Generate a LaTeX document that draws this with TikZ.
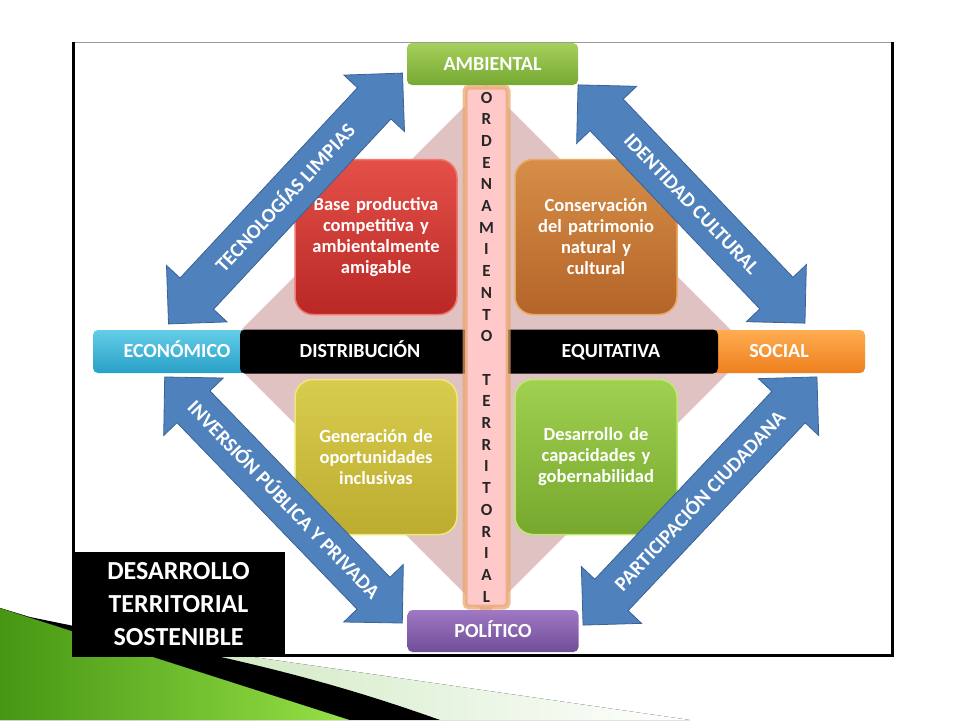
\documentclass[tikz,border=0pt]{standalone}
\usepackage{fontspec}
\setmainfont{Carlito}
\usepackage{xcolor}
\usepackage{tikz}
\usetikzlibrary{positioning, shapes.arrows, shapes.geometric, shapes.misc, backgrounds}
\definecolor{flecha}{RGB}{79,129,189}
\definecolor{flechaborde}{RGB}{58,98,150}
\definecolor{rombo}{RGB}{224,194,194}
\definecolor{rosa}{RGB}{255,201,201}
\definecolor{brillo}{RGB}{232,165,105}
\definecolor{rojoA}{RGB}{228,80,72}
\definecolor{rojoB}{RGB}{185,40,38}
\definecolor{rojoC}{RGB}{240,120,110}
\definecolor{cobreA}{RGB}{214,142,72}
\definecolor{cobreB}{RGB}{180,100,40}
\definecolor{cobreC}{RGB}{235,170,100}
\definecolor{oliva}{RGB}{216,204,78}
\definecolor{olivaB}{RGB}{188,172,48}
\definecolor{olivaC}{RGB}{238,232,120}
\definecolor{pastoA}{RGB}{160,208,80}
\definecolor{pastoB}{RGB}{118,168,46}
\definecolor{pastoC}{RGB}{190,232,110}
\definecolor{cianA}{RGB}{100,205,232}
\definecolor{cianB}{RGB}{40,160,198}
\definecolor{naranjaA}{RGB}{255,172,80}
\definecolor{naranjaB}{RGB}{238,128,30}
\definecolor{verdeA}{RGB}{165,208,92}
\definecolor{verdeB}{RGB}{118,168,50}
\definecolor{moradoA}{RGB}{160,120,196}
\definecolor{moradoB}{RGB}{112,78,152}
\definecolor{cintaA}{RGB}{70,150,20}
\definecolor{cintaB}{RGB}{150,225,70}
\definecolor{cintaC}{RGB}{205,232,190}
\tikzset{
eje/.style args = {#1, #2}{ rectangle, rounded corners = 5pt, top color = #1, bottom color = #2, minimum width = 171pt, minimum height = 42pt, inner sep = 0pt, text height = 12.9pt, text depth = 0pt, text = white, font = \fontsize{20}{24}\selectfont\bfseries },
rotulo/.style = { text height = 12.9pt, text depth = 0pt, text = white, font = \fontsize{20}{24}\selectfont\bfseries },
campo/.style args = {#1, #2, #3}{ rectangle, rounded corners = 18pt, top color = #1, bottom color = #2, draw = #3, line width = 1.5pt, minimum width = 162pt, minimum height = 155pt, text width = 152pt, align = center, text = white, font = \fontsize{18.5}{21}\selectfont\bfseries },
enlace/.style = { double arrow, draw = flechaborde, fill = flecha, line width = 0.8pt, double arrow head extend = 18.5pt, double arrow tip angle = 90, inner ysep = 22.5pt, inner xsep = 0pt },
leyenda/.style = { text height = 13.1pt, text depth = 0pt, inner sep = 0pt, text = white, font = \fontsize{20.3}{24}\selectfont\bfseries },
}

\begin{document}
\begin{tikzpicture}[x = 1pt, y = -1pt]
    \useasboundingbox (0, 0) rectangle (960, 720);
    % cinta
    \fill[left color = cintaA, right color = cintaB] (0, 608) -- (350, 720) -- (0, 720) -- cycle;
    \fill[left color = cintaC, right color = white] (170, 645) -- (690, 720) -- (440, 720) -- cycle;
    \fill[black] (30, 617) .. controls (200, 652) and (300, 670) .. (440, 720) -- (350, 720) -- (0, 608) -- cycle;
    % marco
    \draw[fill = white, draw = black!40] (73, 42) rectangle (892, 655);
    \draw[line width = 3pt] (73, 42) -- (73, 655) -- (892, 655) -- (892, 42);
    \node (fondo) [diamond, fill = rombo, minimum width = 530pt, minimum height = 530pt, inner sep = 0pt] at (486, 350) {};
    \node (base) [campo = {rojoA, rojoB, rojoC}] at (376, 237) {Base productiva\\competitiva y\\ambientalmente\\amigable};
    \node (conservacion) [campo = {cobreA, cobreB, cobreC}] at (596, 237) {Conservación\\del patrimonio\\natural y\\cultural};
    \node (generacion) [campo = {oliva, olivaB, olivaC}] at (376, 457) {Generación de\\oportunidades\\inclusivas};
    \node (desarrollo) [campo = {pastoA, pastoB, pastoC}] at (596, 457) {Desarrollo de\\capacidades y\\gobernabilidad};
    \node (economico) [eje = {cianA, cianB}, minimum width = 168pt, minimum height = 43pt] at (177, 351.5) {ECONÓMICO};
    \node (social) [eje = {naranjaA, naranjaB}, minimum width = 172pt, minimum height = 43pt] at (779, 351.5) {SOCIAL};
    \node (barra) [rectangle, rounded corners = 5pt, fill = black, minimum width = 478pt, minimum height = 44pt] at (479, 351.5) {};
    \node (distribucion) [rotulo] at (360, 351.5) {DISTRIBUCIÓN};
    \node (equitativa) [rotulo] at (611, 351.5) {EQUITATIVA};
    \node (orden) [rectangle, rounded corners = 4pt, fill = rosa, draw = brillo, draw opacity = 0.7, line width = 5pt, minimum width = 43pt, minimum height = 520pt, inner sep = 0pt, align = center, text = black!85, font = \fontsize{17}{21.7}\selectfont\bfseries] at (486.5, 347) {O\\R\\D\\E\\N\\A\\M\\I\\E\\N\\T\\O\\[21.7pt]T\\E\\R\\R\\I\\T\\O\\R\\I\\A\\L};
    \node (ambiental) [eje = {verdeA, verdeB}] at (492.5, 64) {AMBIENTAL};
    \node (politico) [eje = {moradoA, moradoB}] at (493, 631) {POLÍTICO};
    % flechas
    \node (limpias) [enlace, minimum height = 343pt, rotate = 47] at (285.5, 198.5) {};
    \node (identidad) [enlace, minimum height = 329pt, rotate = -46.4] at (691.5, 204) {};
    \node (inversion) [enlace, minimum height = 342pt, rotate = -46] at (283.5, 500) {};
    \node (participacion) [enlace, minimum height = 341pt, rotate = 46.7] at (700, 501) {};
    \node (limpias texto) [leyenda, rotate = 47] at (limpias.center) {TECNOLOGÍAS LIMPIAS};
    \node (identidad texto) [leyenda, rotate = -46.4] at (identidad.center) {IDENTIDAD CULTURAL};
    \node (inversion texto) [leyenda, rotate = -46] at (inversion.center) {INVERSIÓN PÚBLICA Y PRIVADA};
    \node (participacion texto) [leyenda, rotate = 46.7] at (participacion.center) {PARTICIPACIÓN CIUDADANA};
    \node (lema) [rectangle, fill = black, minimum width = 213pt, minimum height = 105pt, align = center, text = white, font = \fontsize{26}{33}\selectfont\bfseries] at (178.5, 604.5) {DESARROLLO\\TERRITORIAL\\SOSTENIBLE};
\end{tikzpicture}
\end{document}
